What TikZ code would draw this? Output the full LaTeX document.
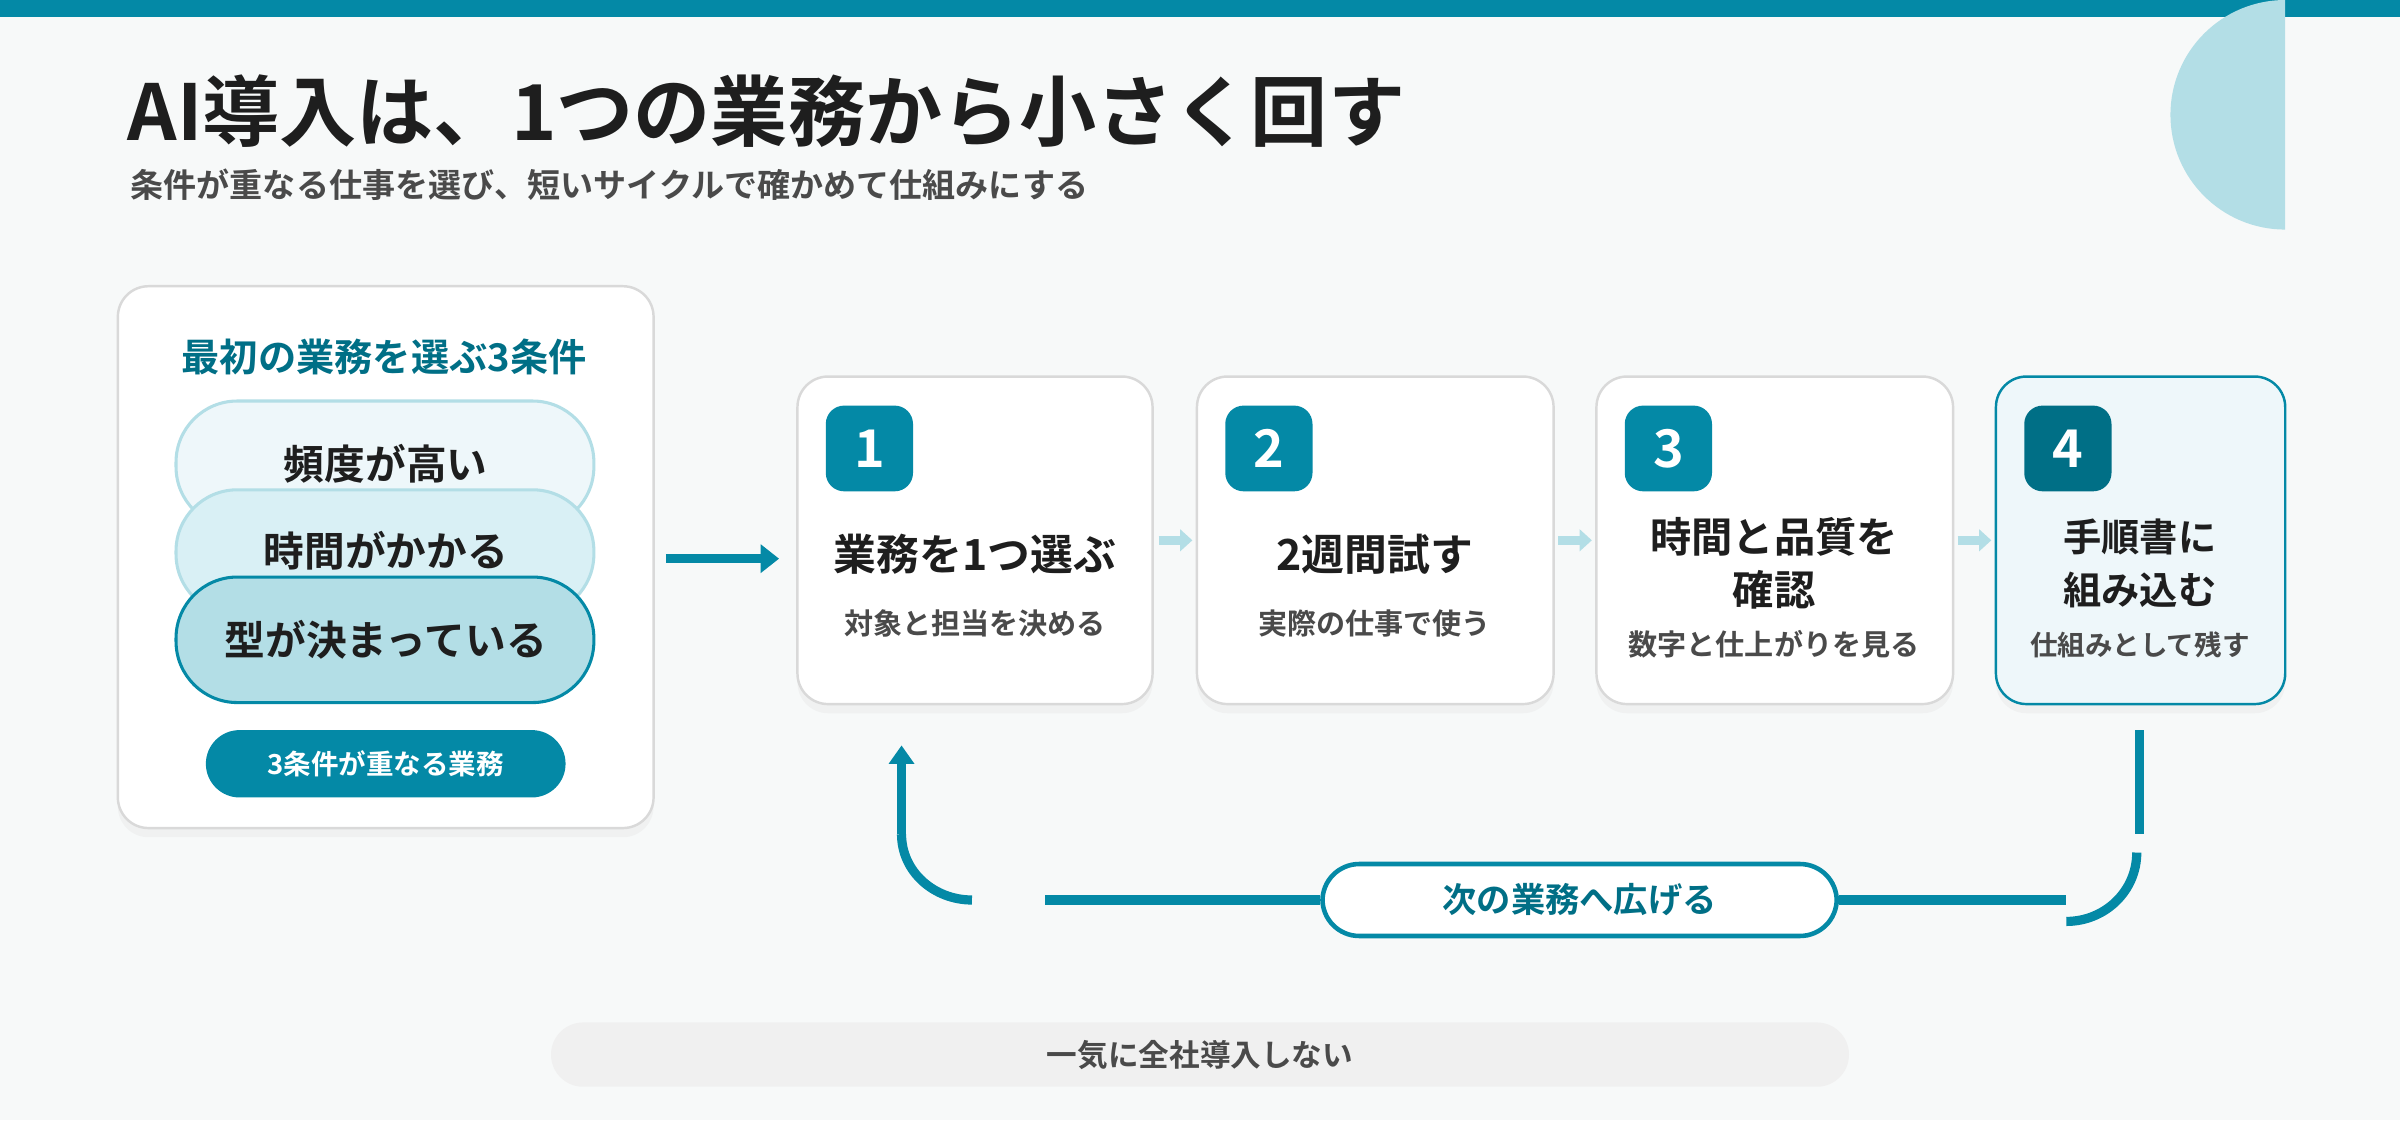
\documentclass[tikz,border=0pt]{standalone}
\usepackage{fontspec}
\setmainfont{Noto Sans CJK JP}[BoldFont={Noto Sans CJK JP Bold}]
\usetikzlibrary{arrows.meta,shadows}
\definecolor{teal}{HTML}{0489A6}
\definecolor{dteal}{HTML}{006F86}
\definecolor{lb}{HTML}{B3DEE6}
\definecolor{lb2}{HTML}{D9F0F5}
\definecolor{lb3}{HTML}{EEF7FA}
\definecolor{bg}{HTML}{F7F9F9}
\definecolor{ink}{HTML}{1E1E1E}
\definecolor{gr}{HTML}{4A4A4A}
\begin{document}
\begin{tikzpicture}[x=0.5pt,y=-0.5pt,
 card/.style={draw=black!15,line width=0.8pt,fill=white,rounded corners=10pt,drop shadow={opacity=0.06,shadow xshift=0pt,shadow yshift=-3pt}},
 badge/.style={fill=teal,rounded corners=6pt,minimum width=28.5pt,minimum height=28pt,text=white,font=\bfseries\fontsize{17}{17}\selectfont,inner sep=0pt},
 st/.style={font=\bfseries\fontsize{14}{17.5}\selectfont,text=ink,align=center},
 sub/.style={font=\bfseries\fontsize{9.5}{10}\selectfont,text=gr},
 pill/.style={rounded corners=20pt,line width=1pt},
 ptxt/.style={font=\bfseries\fontsize{13.3}{13}\selectfont,text=ink},
 flow/.style={draw=teal,line width=3pt},
 small/.style={-{Triangle[length=4pt,width=7pt]},draw=lb,line width=3pt}]
\useasboundingbox (0,0) rectangle (1568,732);
\fill[bg] (0,0) rectangle (1568,732);
\fill[teal] (0,0) rectangle (1568,11);
\begin{scope}
\clip (1400,0) rectangle (1493,160);
\fill[lb] (1493,75) circle[radius=75];
\end{scope}
\node[anchor=base west,font=\bfseries\fontsize{25.2}{25}\selectfont,text=ink,inner sep=0] (title) at (83,92) {AI導入は、1つの業務から小さく回す};
\node[anchor=base west,font=\bfseries\fontsize{10.8}{10}\selectfont,text=gr,inner sep=0] (subt) at (85,129) {条件が重なる仕事を選び、短いサイクルで確かめて仕組みにする};
% left card
\path[card] (77,187) rectangle (427,541);
\node[font=\bfseries\fontsize{12.5}{10}\selectfont,text=dteal] (lh) at (251,233) {最初の業務を選ぶ3条件};
\draw[pill,fill=lb3,draw=lb] (115,262) rectangle (388,345);
\node[ptxt] (p1) at (252,303) {頻度が高い};
\draw[pill,fill=lb2,draw=lb] (115,320) rectangle (388,402);
\node[ptxt] (p2) at (252,360) {時間がかかる};
\draw[pill,fill=lb,draw=teal] (115,377) rectangle (388,459);
\node[ptxt] (p3) at (252,418) {型が決まっている};
\node[fill=teal,rounded corners=11pt,minimum width=117.5pt,minimum height=22pt,text=white,font=\bfseries\fontsize{9}{9}\selectfont,inner sep=0] (btn) at (252,499) {3条件が重なる業務};
% steps
\foreach \i/\x/\w in {1/521/232,2/782/233,3/1043/233}{
 \path[card] (\x,246) rectangle ++(\w,214);
}
\path[card,fill=lb3,draw=teal] (1304,246) rectangle (1493,460);
\node[badge] (b1) at (568,293) {1};
\node[badge] (b2) at (829,293) {2};
\node[badge] (b3) at (1090,293) {3};
\node[badge,fill=dteal] (b4) at (1351,293) {4};
\node[st] (s1) at (637,362) {業務を1つ選ぶ};
\node[sub] (u1) at (637,407) {対象と担当を決める};
\node[st] (s2) at (898,362) {2週間試す};
\node[sub] (u2) at (898,407) {実際の仕事で使う};
\node[st,font=\bfseries\fontsize{13.5}{17.5}\selectfont] (s3) at (1159,368) {時間と品質を\\確認};
\node[sub] (u3) at (1159,421) {数字と仕上がりを見る};
\node[st,font=\bfseries\fontsize{12.5}{17.5}\selectfont] (s4) at (1398,368) {手順書に\\組み込む};
\node[sub,font=\bfseries\fontsize{9}{10}\selectfont] (u4) at (1398,421) {仕組みとして残す};
\coordinate (a1) at (757,353); \coordinate (a1e) at (779,353);
\coordinate (a2) at (1018,353); \coordinate (a2e) at (1040,353);
\coordinate (a3) at (1279,353); \coordinate (a3e) at (1301,353);
\draw[small] (a1) -- (a1e);
\draw[small] (a2) -- (a2e);
\draw[small] (a3) -- (a3e);
\coordinate (m0) at (435,365); \coordinate (m1) at (509,365);
\draw[flow,-{Triangle[length=6pt,width=9pt]}] (m0) -- (m1);
% loop
\coordinate (r0) at (1398,477); \coordinate (r1) at (1398,545);
\draw[flow] (r0) -- (r1);
\coordinate (r2) at (1396,557); \coordinate (r3) at (1350,602);
\draw[flow] (r2) to[out=-90,in=0] (r3);
\node[draw=teal,line width=1.5pt,fill=white,rounded corners=12pt,minimum width=168pt,minimum height=23.5pt,text=dteal,font=\bfseries\fontsize{11.2}{10}\selectfont] (lp) at (1032,588) {次の業務へ広げる};
\coordinate (h0) at (683,588); \coordinate (h1) at (1350,588);
\draw[flow] (h0) -- (lp.west);
\draw[flow] (lp.east) -- (h1);
\coordinate (l0) at (635,588); \coordinate (l1) at (589,545); \coordinate (l2) at (589,487);
\draw[flow] (l0) to[out=180,in=-90] (l1);
\draw[flow,-{Triangle[length=6pt,width=8pt]}] (l1) -- (l2);
% bottom
\node[fill=black!6,rounded corners=10.5pt,minimum width=424pt,minimum height=21pt,text=gr,font=\bfseries\fontsize{10}{8}\selectfont,inner sep=0] (bt) at (784,689) {一気に全社導入しない};
\end{tikzpicture}
\end{document}
